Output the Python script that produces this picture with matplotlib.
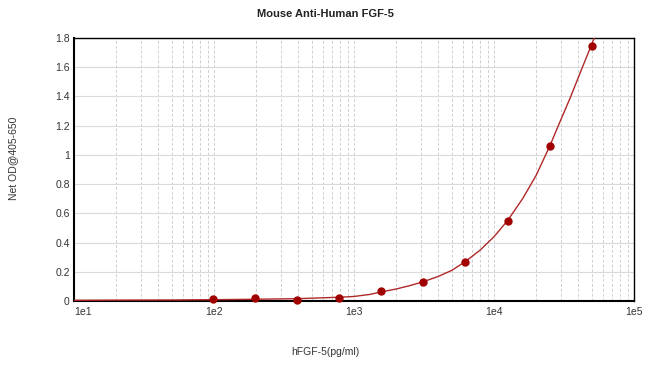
import matplotlib
matplotlib.use('Agg')
import matplotlib.pyplot as plt
from matplotlib.ticker import FixedLocator, LogLocator, NullFormatter

plt.rcParams['font.family'] = ['Liberation Sans', 'DejaVu Sans']

# standard points (2-fold dilution series)
conc = [97.66, 195.3, 390.6, 781.3, 1562.5, 3125, 6250, 12500, 25000, 50000]
od = [0.014, 0.02, 0.01, 0.02, 0.07, 0.127, 0.27, 0.55, 1.06, 1.745]

# fitted curve
curve_x = [10, 20, 50, 100, 200, 400, 800, 1000, 1300, 1562.5, 2000, 2500,
           3125, 4000, 5000, 6250, 8000, 10000, 12500, 16000, 20000, 25000,
           30000, 35000, 42000, 50000, 54000]
curve_y = [0.005, 0.006, 0.007, 0.009, 0.012, 0.016, 0.026, 0.031, 0.045,
           0.062, 0.082, 0.105, 0.132, 0.168, 0.21, 0.27, 0.35, 0.44, 0.55,
           0.70, 0.86, 1.06, 1.24, 1.39, 1.58, 1.76, 1.84]

yticks = [0, 0.2, 0.4, 0.6, 0.8, 1, 1.2, 1.4, 1.6, 1.8]
ytick_labels = ['0', '0.2', '0.4', '0.6', '0.8', '1', '1.2', '1.4', '1.6', '1.8']
xticks = [1e1, 1e2, 1e3, 1e4, 1e5]
xtick_labels = ['1e1', '1e2', '1e3', '1e4', '1e5']

fig = plt.figure(figsize=(6.5, 3.69), dpi=100)
ax = fig.add_axes([0.1138, 0.1843, 0.8616, 0.7127])

ax.set_xscale('log')
ax.set_xlim(10, 1e5)
ax.set_ylim(0, 1.8)

# grid
ax.xaxis.set_major_locator(FixedLocator(xticks))
ax.xaxis.set_minor_locator(LogLocator(base=10, subs=range(2, 10)))
ax.xaxis.set_minor_formatter(NullFormatter())
ax.set_yticks(yticks)
ax.grid(True, axis='x', which='both', color='#cfcfcf', linestyle=(0, (3, 2)), linewidth=0.7)
ax.grid(True, axis='y', which='major', color='#dadada', linestyle='-', linewidth=0.8)
ax.set_axisbelow(True)

ax.plot(curve_x, curve_y, color='#b02828', linewidth=1.0, zorder=3, clip_on=True)
ax.plot(conc, od, 'o', color='#a00000', markersize=5, zorder=4, clip_on=False)

ax.set_xticklabels(xtick_labels)
ax.set_yticklabels(ytick_labels)
ax.tick_params(axis='both', which='both', length=0, labelsize=7.5, colors='#333333')
ax.tick_params(axis='x', pad=4)
ax.tick_params(axis='y', pad=3)
# nudge the "1e1" label right so it clears the "0" label
ax.get_xticklabels()[0].set_horizontalalignment('left')
ax.get_xticklabels()[0].set_x(10.5)

for s in ax.spines.values():
    s.set_color('#000000')
    s.set_linewidth(1.0)
ax.spines['left'].set_linewidth(1.5)
ax.spines['bottom'].set_linewidth(1.5)

fig.text(0.5, 0.962, 'Mouse Anti-Human FGF-5', ha='center', va='center',
         fontsize=8, fontweight='bold', color='#222222')
fig.text(0.5, 0.046, 'hFGF-5(pg/ml)', ha='center', va='center',
         fontsize=7.5, color='#333333')
fig.text(0.02, 0.57, 'Net OD@405-650', ha='center', va='center',
         rotation=90, fontsize=7.5, color='#333333')

fig.savefig('out.png', dpi=100)
